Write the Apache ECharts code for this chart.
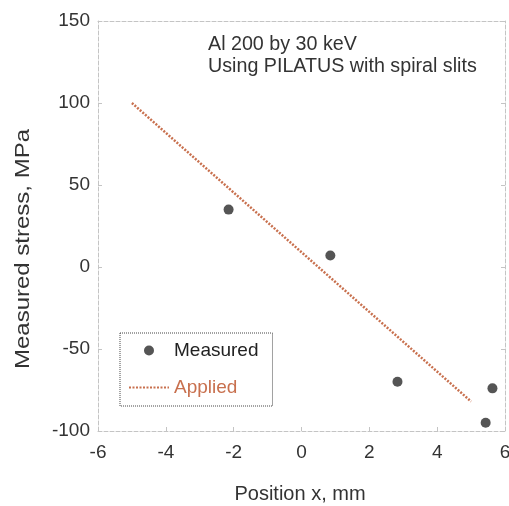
<!DOCTYPE html>
<html>
<head>
<meta charset="utf-8">
<script src="https://cdn.jsdelivr.net/npm/echarts@6/dist/echarts.min.js"></script>
<style>
  html, body { margin: 0; padding: 0; background: #fff; }
  #chart { width: 509px; height: 506px; }
</style>
</head>
<body>
<div id="chart"></div>
<script>
// measured points (position mm, stress MPa)
var measuredX = [-2.15, 0.85, 2.83, 5.43, 5.63];
var measuredY = [35, 7, -70, -95, -74];
// applied stress line, end points
var appliedX = [-5, 5];
var appliedY = [100, -82];

var xTicks = { min: -6, max: 6, interval: 2 };
var yTicks = { min: -100, max: 150, interval: 50 };

var font = '"Liberation Sans", Arial, sans-serif';
var axisGray = '#c4c4c4';
var orange = '#c8704e';

function pairs(xs, ys) {
  return xs.map(function (x, i) { return [x, ys[i]]; });
}

var chart = echarts.init(document.getElementById('chart'));

var option = {
  animation: false,
  backgroundColor: '#fff',
  textStyle: { fontFamily: font },
  grid: { left: 98, right: 4, top: 21, bottom: 75, outerBoundsMode: 'none', containLabel: false },
  xAxis: [
    {
      type: 'value',
      min: xTicks.min, max: xTicks.max, interval: xTicks.interval,
      axisLine: { show: true, onZero: false, lineStyle: { color: axisGray, type: 'dashed' } },
      axisTick: { show: true, inside: true, length: 4, lineStyle: { color: axisGray } },
      axisLabel: { color: '#333', fontSize: 19, margin: 12, fontFamily: font },
      splitLine: { show: false }
    },
    {
      type: 'value', position: 'top',
      min: xTicks.min, max: xTicks.max, interval: xTicks.interval,
      axisLine: { show: true, onZero: false, lineStyle: { color: axisGray, type: 'dashed' } },
      axisTick: { show: false }, axisLabel: { show: false }, splitLine: { show: false }
    }
  ],
  yAxis: [
    {
      type: 'value',
      min: yTicks.min, max: yTicks.max, interval: yTicks.interval,
      axisLine: { show: true, onZero: false, lineStyle: { color: axisGray, type: 'dashed' } },
      axisTick: { show: true, inside: true, length: 4, lineStyle: { color: axisGray } },
      axisLabel: { color: '#333', fontSize: 19, margin: 8, fontFamily: font },
      splitLine: { show: false }
    },
    {
      type: 'value', position: 'right',
      min: yTicks.min, max: yTicks.max, interval: yTicks.interval,
      axisLine: { show: true, onZero: false, lineStyle: { color: axisGray, type: 'dashed' } },
      axisTick: { show: true, inside: true, length: 4, lineStyle: { color: axisGray } },
      axisLabel: { show: false }, splitLine: { show: false }
    }
  ],
  legend: {
    orient: 'vertical',
    left: 120, top: 333,
    padding: [8, 14, 9, 8],
    itemGap: 18,
    itemWidth: 40,
    itemHeight: 10,
    borderColor: '#444',
    borderWidth: 1,
    borderType: 'dotted',
    textStyle: { fontSize: 19, fontFamily: font, color: '#222' },
    data: [
      { name: 'Measured', textStyle: { color: '#222' } },
      { name: 'Applied', textStyle: { color: orange }, itemStyle: { opacity: 0 } }
    ]
  },
  graphic: [
    {
      type: 'text', left: 208, top: 34,
      style: {
        text: 'Al 200 by 30 keV\nUsing PILATUS with spiral slits',
        font: '19.7px ' + font, fill: '#333', lineHeight: 22
      }
    },
    {
      type: 'text', x: 23, y: 249, rotation: Math.PI / 2, scaleX: 1.2,
      style: {
        text: 'Measured stress, MPa', font: '20px ' + font, fill: '#333',
        align: 'center', verticalAlign: 'middle'
      }
    },
    {
      type: 'text', x: 300, y: 494,
      style: {
        text: 'Position x, mm', font: '20px ' + font, fill: '#333',
        align: 'center', verticalAlign: 'middle'
      }
    }
  ],
  series: [
    {
      name: 'Measured',
      type: 'scatter',
      data: pairs(measuredX, measuredY),
      symbol: 'circle',
      symbolSize: 10,
      itemStyle: { color: '#2b2b2b' }
    },
    {
      name: 'Applied',
      type: 'line',
      data: pairs(appliedX, appliedY),
      symbol: 'none',
      lineStyle: { color: orange, width: 2.5, type: [2, 1.5] },
      itemStyle: { color: orange }
    }
  ]
};

chart.setOption(option);
</script>
</body>
</html>
